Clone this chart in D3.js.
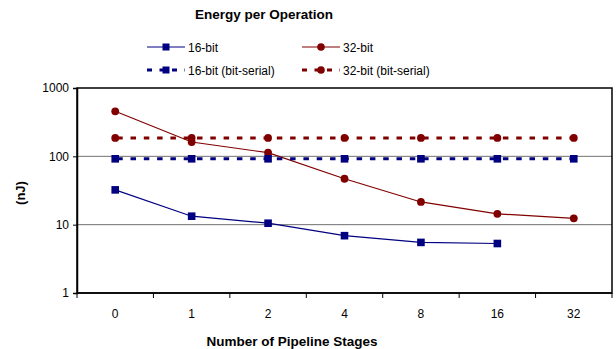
<!DOCTYPE html>
<html>
<head>
<meta charset="utf-8">
<script src="https://cdn.jsdelivr.net/npm/d3@7"></script>
<style>
  html, body { margin: 0; padding: 0; background: #fff; }
  svg { display: block; font-family: "Liberation Sans", Arial, sans-serif; }
</style>
</head>
<body>
<svg id="chart" width="616" height="349"></svg>
<script>
// Pipeline depth categories
const stages = ["0", "1", "2", "4", "8", "16", "32"];

// Energy per operation (nJ)
const bit16 = [32.3, 13.3, 10.5, 6.9, 5.5, 5.3, null];
const bit32 = [456, 162, 113, 47, 21.5, 14.4, 12.4];
const bit16Serial = [92, 92, 92, 92, 92, 92, 92];
const bit32Serial = [186, 186, 186, 186, 186, 186, 186];

const yTicks = [1, 10, 100, 1000];

const seriesList = [
  { name: "16-bit", values: bit16, color: "#000080", marker: "square", dashed: false },
  { name: "32-bit", values: bit32, color: "#800000", marker: "circle", dashed: false },
  { name: "16-bit (bit-serial)", values: bit16Serial, color: "#000080", marker: "square", dashed: true },
  { name: "32-bit (bit-serial)", values: bit32Serial, color: "#800000", marker: "circle", dashed: true }
];

const svg = d3.select("#chart");
const plot = { left: 77, right: 612, top: 88, bottom: 293 };

const x = d3.scaleBand().domain(stages).range([plot.left, plot.right]);
const y = d3.scaleLog().domain([1, 1000]).range([plot.bottom, plot.top]);

// gridlines
svg.append("g")
  .selectAll("line")
  .data(yTicks.filter(t => t > 1 && t < 1000))
  .join("line")
  .attr("x1", plot.left).attr("x2", plot.right)
  .attr("y1", d => y(d)).attr("y2", d => y(d))
  .attr("stroke", "#707070").attr("stroke-width", 1);

// plot frame
svg.append("rect")
  .attr("x", plot.left).attr("y", plot.top)
  .attr("width", plot.right - plot.left).attr("height", plot.bottom - plot.top)
  .attr("fill", "none").attr("stroke", "#000").attr("stroke-width", 1.5);

// y axis
const yAxis = svg.append("g")
  .attr("transform", `translate(${plot.left},0)`)
  .call(d3.axisLeft(y).tickValues(yTicks).tickFormat(d3.format("d")).tickSize(4).tickPadding(4));
yAxis.select(".domain").attr("stroke", "#000").attr("stroke-width", 1.5);
yAxis.selectAll("text").attr("font-size", 12).attr("fill", "#000")
  .attr("font-family", "Liberation Sans, Arial, sans-serif");

// x axis: ticks on band boundaries
const xAxisG = svg.append("g").attr("transform", `translate(0,${plot.bottom})`);
xAxisG.append("line")
  .attr("x1", plot.left).attr("x2", plot.right)
  .attr("stroke", "#000").attr("stroke-width", 1.5);
const bounds = stages.map(s => x(s)).concat([x(stages[stages.length - 1]) + x.bandwidth()]);
xAxisG.selectAll("line.tick")
  .data(bounds)
  .join("line")
  .attr("class", "tick")
  .attr("x1", d => d).attr("x2", d => d)
  .attr("y1", 0).attr("y2", 5)
  .attr("stroke", "#000").attr("stroke-width", 1);
xAxisG.selectAll("text")
  .data(stages)
  .join("text")
  .attr("x", d => x(d) + x.bandwidth() / 2)
  .attr("y", 25)
  .attr("text-anchor", "middle")
  .attr("font-size", 12)
  .text(d => d);

const cx = d => x(d) + x.bandwidth() / 2;

// series
seriesList.forEach(s => {
  const pts = stages.map((st, i) => ({ st, v: s.values[i] })).filter(p => p.v != null);
  const line = d3.line().x(p => cx(p.st)).y(p => y(p.v));
  svg.append("path")
    .datum(pts)
    .attr("d", line)
    .attr("fill", "none")
    .attr("stroke", s.color)
    .attr("stroke-width", s.dashed ? 3 : 1.2)
    .attr("stroke-dasharray", s.dashed ? "5.5,7.8" : null)
    .attr("stroke-dashoffset", s.dashed ? -2 : 0);
  const g = svg.append("g");
  if (s.marker === "square") {
    g.selectAll("rect").data(pts).join("rect")
      .attr("x", p => cx(p.st) - 3.8).attr("y", p => y(p.v) - 3.8)
      .attr("width", 7.6).attr("height", 7.6)
      .attr("fill", s.color);
  } else {
    g.selectAll("circle").data(pts).join("circle")
      .attr("cx", p => cx(p.st)).attr("cy", p => y(p.v))
      .attr("r", 3.9)
      .attr("fill", s.color);
  }
});

// title
svg.append("text")
  .attr("x", 264).attr("y", 19)
  .attr("text-anchor", "middle")
  .attr("font-size", 13.5).attr("font-weight", "bold")
  .text("Energy per Operation");

// legend
const legendPos = [
  { x: 147, y: 47 }, { x: 302, y: 47 },
  { x: 147, y: 70 }, { x: 302, y: 70 }
];
seriesList.forEach((s, i) => {
  const p = legendPos[i];
  const g = svg.append("g").attr("transform", `translate(${p.x},${p.y})`);
  g.append("line")
    .attr("x1", 0).attr("x2", 38).attr("y1", 0).attr("y2", 0)
    .attr("stroke", s.color)
    .attr("stroke-width", s.dashed ? 3 : 1.2)
    .attr("stroke-dasharray", s.dashed ? "5,7.5" : null)
    .attr("stroke-dashoffset", 0);
  if (s.marker === "square") {
    g.append("rect").attr("x", 15.5).attr("y", -3.5).attr("width", 7).attr("height", 7).attr("fill", s.color);
  } else {
    g.append("circle").attr("cx", 19).attr("cy", 0).attr("r", 3.8).attr("fill", s.color);
  }
  g.append("text")
    .attr("x", 41).attr("y", 4.5)
    .attr("font-size", 12)
    .text(s.name);
});

// axis titles
svg.append("text")
  .attr("transform", "translate(25,193) rotate(-90)")
  .attr("text-anchor", "middle")
  .attr("font-size", 13).attr("font-weight", "bold")
  .text("(nJ)");

svg.append("text")
  .attr("x", 292).attr("y", 346)
  .attr("text-anchor", "middle")
  .attr("font-size", 13.5).attr("font-weight", "bold")
  .text("Number of Pipeline Stages");
</script>
</body>
</html>
